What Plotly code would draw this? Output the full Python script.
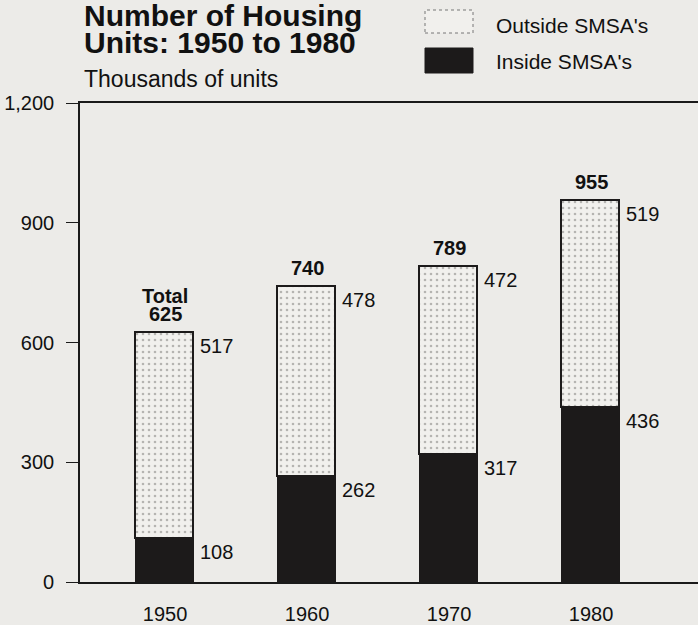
import plotly.graph_objects as go

years = ["1950", "1960", "1970", "1980"]
inside = [108, 262, 317, 436]
outside = [517, 478, 472, 519]
totals = [625, 740, 789, 955]
y_ticks = [0, 300, 600, 900, 1200]
y_tick_labels = ["0", "300", "600", "900", "1,200"]

W, H = 698, 625
BG = "#ecebe8"
DARK = "#1c1a1a"
FONT = "Liberation Sans, Arial, Helvetica, sans-serif"

xpos = list(range(len(years)))
bar_w = 0.408

fig = go.Figure()
fig.add_trace(go.Bar(
    x=xpos, y=inside, width=bar_w, name="Inside SMSA's",
    marker=dict(color=DARK, line=dict(color=DARK, width=1.2)),
    showlegend=False, hoverinfo="skip"))
fig.add_trace(go.Bar(
    x=xpos, y=outside, width=bar_w, name="Outside SMSA's",
    marker=dict(color="#f1f0ed", line=dict(color=DARK, width=1.6),
                pattern=dict(shape=".", fgcolor="#7a7876", bgcolor="#f1f0ed",
                             size=6, solidity=0.15)),
    showlegend=False, hoverinfo="skip"))

ann = []
lab_font = dict(family=FONT, size=20, color="#111")
bold_font = dict(family=FONT, size=20, color="#111", weight="bold")
for i in xpos:
    ann.append(dict(x=i + bar_w / 2, y=totals[i], xref="x", yref="y", text=str(outside[i]),
                    showarrow=False, xanchor="left", yanchor="middle", xshift=4, yshift=-13,
                    font=lab_font))
    ann.append(dict(x=i + bar_w / 2, y=inside[i], xref="x", yref="y", text=str(inside[i]),
                    showarrow=False, xanchor="left", yanchor="middle", xshift=4, yshift=-13,
                    font=lab_font))
    ann.append(dict(x=i, y=totals[i], xref="x", yref="y", text=str(totals[i]),
                    showarrow=False, xanchor="center", yanchor="middle", yshift=19,
                    font=bold_font))
ann.append(dict(x=0, y=totals[0], xref="x", yref="y", text="Total",
                showarrow=False, xanchor="center", yanchor="middle", yshift=37,
                font=bold_font))

def px(x):
    return x / W

def py(y):
    return 1 - y / H

title_font = dict(family=FONT, size=30, color="#111", weight="bold")
ann.append(dict(x=px(82), y=py(15), xref="paper", yref="paper", text="Number of Housing",
                showarrow=False, xanchor="left", yanchor="middle", font=title_font))
ann.append(dict(x=px(82), y=py(42), xref="paper", yref="paper", text="Units: 1950 to 1980",
                showarrow=False, xanchor="left", yanchor="middle", font=title_font))
ann.append(dict(x=px(82), y=py(79), xref="paper", yref="paper", text="Thousands of units",
                showarrow=False, xanchor="left", yanchor="middle",
                font=dict(family=FONT, size=23, color="#111")))
legend_font = dict(family=FONT, size=21, color="#111")
ann.append(dict(x=px(494), y=py(25), xref="paper", yref="paper", text="Outside SMSA's",
                showarrow=False, xanchor="left", yanchor="middle", font=legend_font))
ann.append(dict(x=px(494), y=py(62), xref="paper", yref="paper", text="Inside SMSA's",
                showarrow=False, xanchor="left", yanchor="middle", font=legend_font))

shapes = [
    dict(type="rect", xref="paper", yref="paper", x0=px(425), x1=px(473), y0=py(33), y1=py(10),
         fillcolor="#f1f0ed", line=dict(color="#777", width=1, dash="dot")),
    dict(type="rect", xref="paper", yref="paper", x0=px(425), x1=px(473), y0=py(73), y1=py(48),
         fillcolor=DARK, line=dict(color=DARK, width=1)),
]

fig.update_layout(
    width=W, height=H,
    margin=dict(l=0, r=0, t=0, b=0),
    paper_bgcolor=BG, plot_bgcolor=BG,
    barmode="stack", bargap=0,
    annotations=ann, shapes=shapes,
    showlegend=False,
    font=dict(family=FONT, size=20, color="#111"),
    xaxis=dict(domain=[px(80), 1.0], range=[-0.599, 3.753],
               tickvals=xpos, ticktext=years, ticks="", showgrid=False, zeroline=False,
               showline=True, mirror=True, linecolor="#1a1a1a", linewidth=1.6,
               ticklabelstandoff=13, tickfont=dict(family=FONT, size=20, color="#111"),
               automargin=False, fixedrange=True),
    yaxis=dict(domain=[1 - 582 / H, 1 - 103 / H], range=[0, 1200],
               tickvals=y_ticks, ticktext=y_tick_labels, ticks="outside", ticklen=12,
               tickwidth=1.2, tickcolor="#1a1a1a", showgrid=False, zeroline=False,
               showline=True, linecolor="#1a1a1a", linewidth=1.6,
               ticklabelstandoff=8, tickfont=dict(family=FONT, size=20, color="#111"),
               automargin=False, fixedrange=True),
)

fig.write_html("out.html", config={"displayModeBar": False},
               post_script="document.body.style.margin='0px';document.body.style.overflow='hidden';document.body.style.background='" + BG + "';")
